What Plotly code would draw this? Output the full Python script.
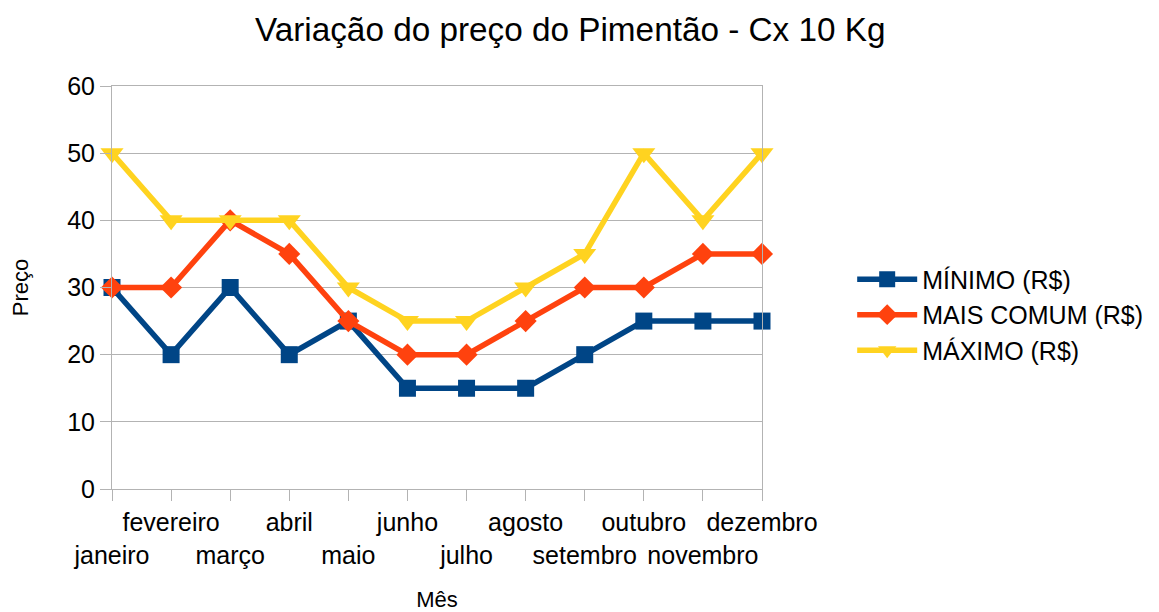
import plotly.graph_objects as go

meses = ["janeiro", "fevereiro", "março", "abril", "maio", "junho",
         "julho", "agosto", "setembro", "outubro", "novembro", "dezembro"]
minimo = [30, 20, 30, 20, 25, 15, 15, 15, 20, 25, 25, 25]
mais_comum = [30, 30, 40, 35, 25, 20, 20, 25, 30, 30, 35, 35]
maximo = [50, 40, 40, 40, 30, 25, 25, 30, 35, 50, 40, 50]
y_ticks = [0, 10, 20, 30, 40, 50, 60]

# staggered tick labels: odd positions on second row
tick_text = [("<br>" + m) if i % 2 == 0 else m for i, m in enumerate(meses)]
x_idx = list(range(len(meses)))

FONT = "Liberation Sans, Arial, sans-serif"

fig = go.Figure()
series = [
    ("MÍNIMO (R$)", minimo, "#004586", "square", 17),
    ("MAIS COMUM (R$)", mais_comum, "#ff420e", "diamond", 17),
    ("MÁXIMO (R$)", maximo, "#ffd320", "triangle-down", 20),
]
for name, vals, color, sym, size in series:
    fig.add_trace(go.Scatter(
        x=x_idx, y=vals, name=name, mode="lines+markers",
        line=dict(color=color, width=5.5),
        marker=dict(symbol=sym, size=size, color=color, line=dict(width=0)),
        cliponaxis=False,
    ))

fig.update_layout(
    width=1159, height=612,
    margin=dict(l=112, r=396, t=86, b=123),
    paper_bgcolor="white", plot_bgcolor="white",
    font=dict(family=FONT, color="black"),
    title=dict(text="Variação do preço do Pimentão - Cx 10 Kg",
               x=0.492, xref="container", xanchor="center",
               y=0.952, yref="container", yanchor="middle",
               font=dict(size=33.3, family=FONT, color="black")),
    showlegend=True,
    legend=dict(x=1.137, xanchor="left", y=0.432, yanchor="middle",
                font=dict(size=25, family=FONT, color="black"),
                tracegroupgap=0, itemwidth=60,
                bgcolor="rgba(0,0,0,0)"),
    xaxis=dict(
        range=[0, 11], tickmode="array", tickvals=x_idx, ticktext=tick_text,
        tickangle=0, automargin=False,
        tickfont=dict(size=25, family=FONT, color="black"),
        ticks="outside", ticklen=11, tickcolor="#b3b3b3", tickwidth=1,
        showgrid=False, zeroline=False,
        showline=True, linecolor="#b3b3b3", linewidth=1, mirror=True,
        title=dict(text="Mês", font=dict(size=22, family=FONT, color="black"),
                   standoff=24),
    ),
    yaxis=dict(
        range=[0, 60], tickmode="array", tickvals=y_ticks,
        automargin=False,
        tickfont=dict(size=25, family=FONT, color="black"),
        ticks="outside", ticklen=11, tickcolor="#b3b3b3", tickwidth=1,
        showgrid=True, gridcolor="#b3b3b3", gridwidth=1, zeroline=False,
        showline=True, linecolor="#b3b3b3", linewidth=1, mirror=True,
        title=dict(text="Preço", font=dict(size=22, family=FONT, color="black"),
                   standoff=32),
    ),
)

fig.write_html("out.html", config={"displayModeBar": False},
               post_script="document.body.style.margin='0';")
